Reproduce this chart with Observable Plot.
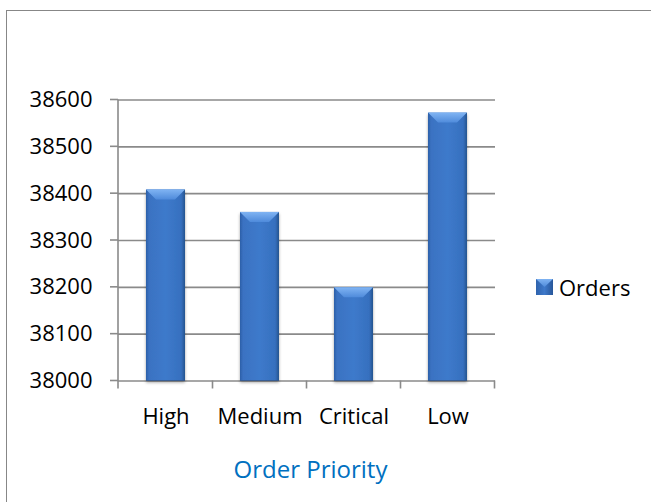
<!DOCTYPE html>
<html>
<head>
<meta charset="utf-8">
<script src="https://cdn.jsdelivr.net/npm/d3@7"></script>
<script src="https://cdn.jsdelivr.net/npm/@observablehq/plot@0.6"></script>
<style>
  html, body { margin: 0; padding: 0; background: #fff; overflow: hidden; }
  #chart { position: relative; width: 651px; height: 502px; font-family: "Open Sans", sans-serif; overflow: hidden; }
  #frame { position: absolute; left: 6px; top: 10px; width: 720px; height: 620px; border: 1.6px solid #878787; box-sizing: border-box; }
  #plot { position: absolute; left: 0; top: 0; }
  #xtitle { position: absolute; left: 0; width: 621px; top: 457px; text-align: center; font-size: 24px; line-height: 24px; color: #0070c0; }
  #legend { position: absolute; left: 536px; top: 276px; display: flex; align-items: center; gap: 6px; font-size: 22px; line-height: 22px; color: #000; }
  #legend svg { display: block; }
</style>
</head>
<body>
<div id="chart">
  <div id="frame"></div>
  <div id="plot"></div>
  <div id="xtitle">Order Priority</div>
  <div id="legend">
    <svg width="17" height="16" viewBox="0 0 17 16">
      <defs>
        <linearGradient id="swBody" x1="0" x2="1" y1="0" y2="0">
          <stop offset="0" stop-color="#2f63ad"/>
          <stop offset="0.5" stop-color="#3e79ca"/>
          <stop offset="1" stop-color="#28579a"/>
        </linearGradient>
        <linearGradient id="swTop" x1="0" x2="0" y1="0" y2="1">
          <stop offset="0" stop-color="#7fb3f2"/>
          <stop offset="1" stop-color="#4f8bda"/>
        </linearGradient>
      </defs>
      <rect x="0" y="0" width="17" height="16" fill="url(#swBody)"/>
      <path d="M0,0H17L8.5,8Z" fill="url(#swTop)"/>
    </svg>
    <span>Orders</span>
  </div>
</div>
<script>
// Orders by priority
const priorities = ["High", "Medium", "Critical", "Low"];
const orders = [38408, 38360, 38199, 38572];

// Value axis
const yTicks = [38000, 38100, 38200, 38300, 38400, 38500, 38600];
const yMin = 38000;
const yMax = 38600;

const rows = priorities.map((p, i) => ({priority: p, orders: orders[i]}));

const NS = "http://www.w3.org/2000/svg";
function el(tag, attrs) {
  const e = document.createElementNS(NS, tag);
  for (const k in attrs) e.setAttribute(k, attrs[k]);
  return e;
}

const axisColor = "#8a8a8a";

// Axis lines, outer tick marks and category boundary ticks
function axisLines(index, scales) {
  const {x, y} = scales;
  const g = el("g", {stroke: axisColor, "stroke-width": 1.6, fill: "none"});
  const [xl] = x.range();
  const base = y(yMin);
  g.appendChild(el("line", {x1: xl, x2: xl, y1: y(yMax), y2: base + 8}));
  for (const t of yTicks) {
    g.appendChild(el("line", {x1: xl - 8, x2: xl, y1: y(t), y2: y(t)}));
  }
  const step = x.step(), bw = x.bandwidth();
  const bounds = priorities.map(p => x(p) + bw / 2 - step / 2);
  bounds.push(bounds[bounds.length - 1] + step);
  for (const b of bounds.slice(1)) {
    g.appendChild(el("line", {x1: b, x2: b, y1: base, y2: base + 8}));
  }
  return g;
}

// Lit bevel on top of every bar
function bevels(index, scales) {
  const {x, y} = scales;
  const bw = x.bandwidth();
  const g = el("g", {});
  rows.forEach(d => {
    const x0 = x(d.priority), x1 = x0 + bw;
    const yt = y(d.orders), yb = y(yMin);
    const k = Math.min(10, (yb - yt) / 2);
    g.appendChild(el("path", {
      d: `M${x0},${yt}H${x1}L${x1 - k},${yt + k}H${x0 + k}Z`,
      fill: "url(#bevelTop)"
    }));
    g.appendChild(el("path", {
      d: `M${x0},${yb}H${x1}`,
      stroke: "#23487f", "stroke-width": 1.2, "stroke-opacity": 0.6
    }));
  });
  return g;
}

const svg = Plot.plot({
  width: 651,
  height: 502,
  marginLeft: 118,
  marginRight: 156,
  marginTop: 99.5,
  marginBottom: 121.5,
  style: {fontFamily: "'Open Sans', sans-serif", fontSize: "22px", color: "#000", background: "transparent", overflow: "visible"},
  x: {
    domain: priorities,
    paddingInner: 0.585,
    paddingOuter: 0.2925,
    label: null,
    tickSize: 0,
    tickPadding: 27
  },
  y: {
    domain: [yMin, yMax],
    ticks: yTicks,
    tickFormat: d => String(d),
    label: null,
    tickSize: 0,
    tickPadding: 26
  },
  marks: [
    Plot.ruleY(yTicks, {stroke: axisColor, strokeWidth: 1.6}),
    axisLines,
    Plot.barY(rows, {x: "priority", y1: yMin, y2: "orders", fill: "url(#barBody)"}),
    bevels
  ]
});

// Gradients and shadow used by the bars
const defs = el("defs", {});
const bodyGrad = el("linearGradient", {id: "barBody", x1: 0, x2: 1, y1: 0, y2: 0});
[["0", "#2d5fa8"], ["0.08", "#3a72c2"], ["0.5", "#3e7acb"], ["0.9", "#3670bf"], ["1", "#26548f"]]
  .forEach(([o, c]) => bodyGrad.appendChild(el("stop", {offset: o, "stop-color": c})));
const bevelGrad = el("linearGradient", {id: "bevelTop", x1: 0, x2: 0, y1: 0, y2: 1});
[["0", "#80b4f3"], ["1", "#4f8bdb"]]
  .forEach(([o, c]) => bevelGrad.appendChild(el("stop", {offset: o, "stop-color": c})));
const shadow = el("filter", {id: "barShadow", x: "-20%", y: "-5%", width: "140%", height: "115%"});
shadow.appendChild(el("feDropShadow", {dx: 0, dy: 2, stdDeviation: 1.6, "flood-color": "#000", "flood-opacity": 0.35}));
defs.append(bodyGrad, bevelGrad, shadow);
svg.prepend(defs);

const barGroup = svg.querySelector('g[aria-label="bar"]');
if (barGroup) barGroup.setAttribute("filter", "url(#barShadow)");

document.getElementById("plot").appendChild(svg);
</script>
</body>
</html>
